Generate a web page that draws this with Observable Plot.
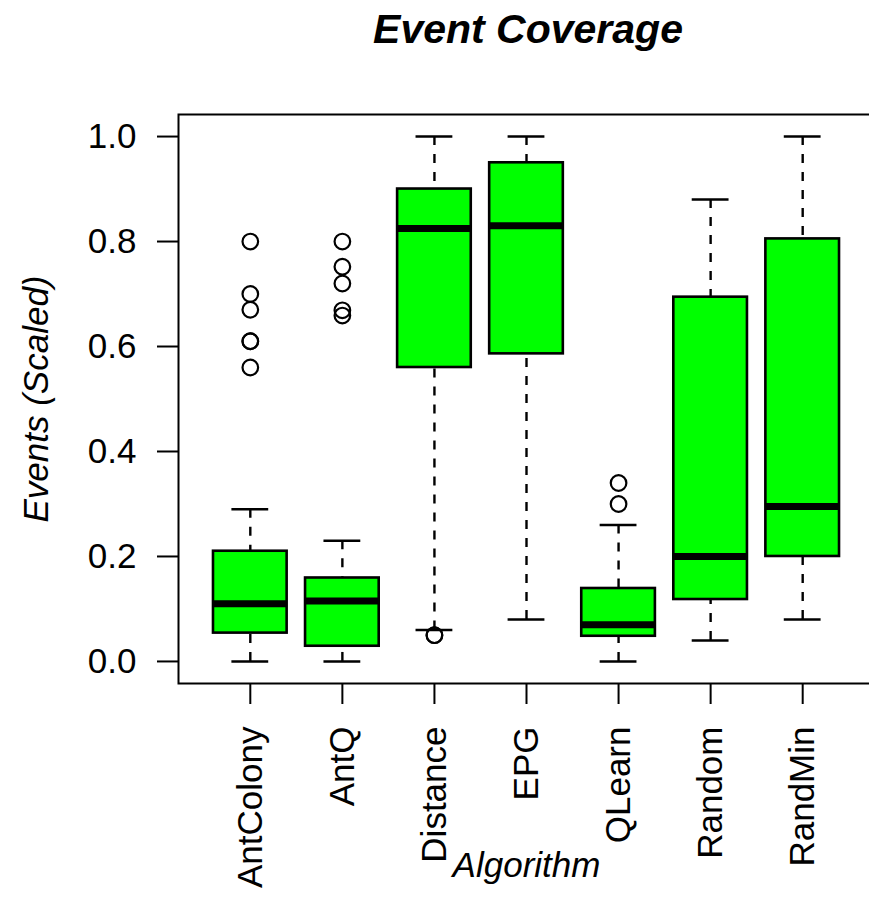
<!DOCTYPE html>
<html>
<head>
<meta charset="utf-8">
<script src="https://cdn.jsdelivr.net/npm/d3@7"></script>
<script src="https://cdn.jsdelivr.net/npm/@observablehq/plot@0.6"></script>
<style>
  html, body { margin: 0; padding: 0; background: white; overflow: hidden; }
  #wrap { position: relative; width: 869px; height: 901px; }
  #title { position: absolute; left: 0; top: 7px; width: 1056px; text-align: center;
           font-family: "Liberation Sans", Arial, sans-serif; font-weight: bold; font-style: italic;
           font-size: 41px; line-height: 45px; color: black; }
</style>
</head>
<body>
<div id="wrap"><div id="title">Event Coverage</div></div>
<script>
// ---- data ----
const algorithms   = ["AntColony", "AntQ", "Distance", "EPG", "QLearn", "Random", "RandMin"];
const lowerWhisker = [0.00, 0.00, 0.06, 0.08, 0.00, 0.04, 0.08];
const q1           = [0.054, 0.029, 0.56, 0.586, 0.048, 0.118, 0.20];
const medians      = [0.11, 0.115, 0.825, 0.83, 0.07, 0.20, 0.295];
const q3           = [0.21, 0.159, 0.90, 0.95, 0.139, 0.694, 0.805];
const upperWhisker = [0.29, 0.23, 1.00, 1.00, 0.26, 0.88, 1.00];

const outlierAlgorithm = ["AntColony", "AntColony", "AntColony", "AntColony", "AntColony", "AntColony",
                          "AntQ", "AntQ", "AntQ", "AntQ", "AntQ",
                          "Distance", "Distance",
                          "QLearn", "QLearn"];
const outlierValue     = [0.80, 0.70, 0.67, 0.61, 0.61, 0.56,
                          0.80, 0.752, 0.72, 0.669, 0.659,
                          0.05, 0.05,
                          0.34, 0.30];

const yTicks = [0, 0.2, 0.4, 0.6, 0.8, 1.0];
const titleText = "Event Coverage";
const xLabel = "Algorithm";
const yLabel = "Events (Scaled)";

// ---- derived tables ----
const boxes = algorithms.map((a, k) => ({
  name: a, i: k + 1, lo: lowerWhisker[k], q1: q1[k], med: medians[k], q3: q3[k], hi: upperWhisker[k]
}));
const outliers = outlierAlgorithm.map((a, k) => ({ i: algorithms.indexOf(a) + 1, v: outlierValue[k] }));

const font = "'Liberation Sans', Arial, Helvetica, sans-serif";
const boxHalf = 0.4, capHalf = 0.2;

const chart = Plot.plot({
  width: 869,
  height: 901,
  marginLeft: 178,
  marginRight: -5,
  marginTop: 114,
  marginBottom: 218,
  style: { fontFamily: font, color: "black", background: "white", overflow: "visible" },
  x: { type: "linear", domain: [0.22, 7.78] },
  y: { domain: [-0.042, 1.042] },
  marks: [
    // whiskers (dashed)
    Plot.ruleX(boxes, { x: "i", y1: "hi", y2: "q3", stroke: "black", strokeWidth: 2.4, strokeDasharray: "9,9" }),
    Plot.ruleX(boxes, { x: "i", y1: "lo", y2: "q1", stroke: "black", strokeWidth: 2.4, strokeDasharray: "9,9" }),
    // whisker caps
    Plot.ruleY(boxes, { y: "hi", x1: d => d.i - capHalf, x2: d => d.i + capHalf, stroke: "black", strokeWidth: 2.4 }),
    Plot.ruleY(boxes, { y: "lo", x1: d => d.i - capHalf, x2: d => d.i + capHalf, stroke: "black", strokeWidth: 2.4 }),
    // boxes
    Plot.rect(boxes, { x1: d => d.i - boxHalf, x2: d => d.i + boxHalf, y1: "q1", y2: "q3",
                       fill: "#00ff00", stroke: "black", strokeWidth: 2.6 }),
    // medians
    Plot.ruleY(boxes, { y: "med", x1: d => d.i - boxHalf, x2: d => d.i + boxHalf, stroke: "black", strokeWidth: 7 }),
    // outliers
    Plot.dot(outliers, { x: "i", y: "v", r: 7.8, stroke: "black", strokeWidth: 2.2, fill: "none" }),
    // frame
    Plot.frame({ stroke: "black", strokeWidth: 2 }),
    // axes
    Plot.axisY({ ticks: yTicks, tickFormat: d3.format(".1f"), tickSize: 21, tickPadding: 21,
                 fontSize: 35, label: null, strokeWidth: 2 }),
    Plot.axisX({ ticks: algorithms.map((_, k) => k + 1), tickFormat: d => algorithms[d - 1],
                 tickSize: 21, tickPadding: 22, tickRotate: -90, fontSize: 35, label: null, strokeWidth: 2 }),
    // axis titles
    Plot.text([xLabel], { frameAnchor: "bottom", dy: 193, fontSize: 35, fontStyle: "italic", fill: "black" }),
    Plot.text([yLabel], { frameAnchor: "left", dx: -142, rotate: -90, textAnchor: "middle",
                          fontSize: 35, fontStyle: "italic", fill: "black" })
  ]
});

document.getElementById("wrap").appendChild(chart);
document.getElementById("title").textContent = titleText;
</script>
</body>
</html>
